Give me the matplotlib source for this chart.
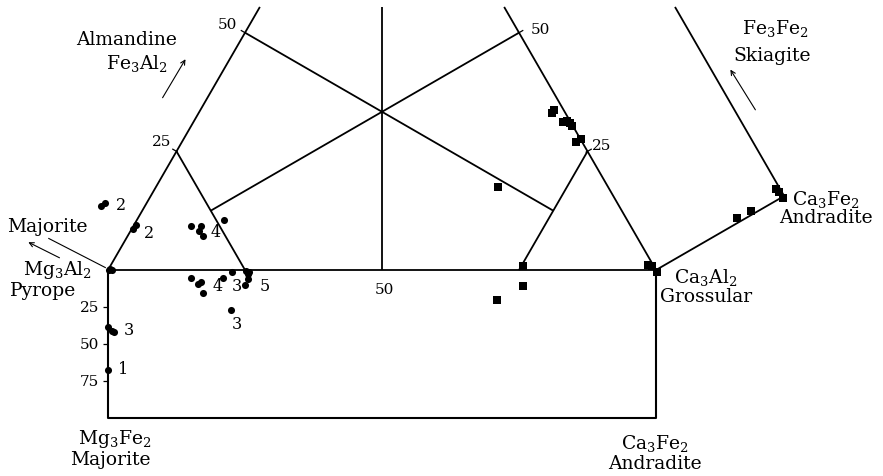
import numpy as np
import matplotlib
matplotlib.use("Agg")
import matplotlib.pyplot as plt

plt.rcParams['font.family'] = ['DejaVu Serif']
plt.rcParams['mathtext.fontset'] = 'dejavuserif'

# diagram units: Pyrope-Grossular base = 0..100, equilateral triangle above,
# Mg3Fe2 box below (100 % Mg3Fe2 = BOX_DEPTH units)
BOX_DEPTH = 27.0
TOP = 48.0
R3 = np.sqrt(3)

# dots (Mg/Fe rich garnets) x, y in diagram units
dot_x = [-1.3, -0.5, 4.6, 5.1, 0.2, 0.7, 0.4, 15.2, 17.0, 16.6, 17.3, 21.2,
         15.2, 16.4, 17.0, 17.3, 21.0, 22.6, 22.5, 25.2, 25.6, 25.6, 25.0, 25.7,
         0.0, 0.7, 1.1, 0.0]
dot_y = [11.7, 12.2, 7.5, 8.2, 0.0, 0.0, 0.2, 8.0, 8.0, 7.1, 6.2, 9.1,
         -1.5, -2.6, -2.2, -4.2, -1.5, -0.3, -7.3, -0.1, -0.7, -1.6, -2.7, -0.4,
         -10.4, -11.1, -11.4, -18.3]

# squares (Ca rich garnets)
sq_x = [81.0, 81.4, 83.0, 83.8, 84.3, 84.7, 85.4, 86.3, 71.2, 75.7, 75.7, 71.0,
        98.5, 99.3, 100.2, 121.9, 122.4, 123.2, 117.3, 114.8]
sq_y = [28.6, 29.2, 27.0, 27.2, 26.8, 26.3, 23.4, 23.9, 15.1, 0.7, -2.9, -5.5,
        0.9, 0.7, -0.4, 14.8, 14.2, 13.1, 10.8, 9.5]

# group numbers
num_labels = ['2', '2', '4', '4', '3', '3', '5', '3', '1']
num_x = [1.5, 6.6, 18.8, 19.0, 22.6, 22.6, 27.6, 2.9, 1.8]
num_y = [11.9, 6.9, 7.1, -2.9, -2.9, -9.7, -2.9, -10.8, -17.9]

box_ticks = [25, 50, 75]
edge_ticks = [25, 50]

fig = plt.figure(figsize=(8.83, 4.77), dpi=100)
ax = fig.add_axes([0, 0, 1, 1])
ax.set_xlim(-19.71, 141.42)
ax.set_ylim(-37.59, 49.45)
ax.axis('off')

kw = dict(color='black', lw=1.3, solid_capstyle='butt')
P = np.array([0.0, 0.0])
G = np.array([100.0, 0.0])
A = np.array([50.0, 50 * R3])
up_l = (A - P) / 100.0
up_r = (A - G) / 100.0

def seg(p, q, **k):
    ax.plot([p[0], q[0]], [p[1], q[1]], **{**kw, **k})

# triangle edges (clipped at top)
seg(P, P + up_l * TOP / up_l[1])
seg(G, G + up_r * TOP / up_r[1])
seg(P, G)
# small corner triangles
seg(P + 25 * up_l, P + np.array([25, 0]))
seg(G + 25 * up_r, G - np.array([25, 0]))
# medians
seg(np.array([50, 0]), np.array([50, TOP]))
L50 = P + 50 * up_l
R50 = G + 50 * up_r
seg(L50, L50 + 0.75 * (G - L50))
seg(R50, R50 + 0.75 * (P - R50))
# edge ticks
nl = np.array([-R3 / 2, 0.5])
nr = np.array([R3 / 2, 0.5])
for t in edge_ticks:
    seg(P + t * up_l - 0.2 * nl, P + t * up_l + 0.9 * nl, lw=0.9)
    seg(G + t * up_r - 0.4 * nr, G + t * up_r + 0.9 * nr, lw=0.9)
# Mg3Fe2 box
ax.plot([0, 0, 100, 100], [0, -BOX_DEPTH, -BOX_DEPTH, 0], color='black', lw=1.5)
for t in box_ticks:
    yy = -t * BOX_DEPTH / 100
    seg(np.array([-1.0, yy]), np.array([0, yy]), lw=0.9)
    ax.text(-1.6, yy, str(t), ha='right', va='center', fontsize=11)
# andradite / skiagite face
AND = G + BOX_DEPTH * np.array([R3 / 2, 0.5])
seg(G, AND)
seg(AND, AND + (A - G) / 100 * (TOP - AND[1]) / up_r[1])

# data
ax.scatter(dot_x, dot_y, s=26, marker='o', color='black', zorder=3, linewidths=0)
ax.scatter(sq_x, sq_y, s=32, marker='s', color='black', zorder=3, linewidths=0)
for lab, x, y in zip(num_labels, num_x, num_y):
    ax.text(x, y, lab, ha='left', va='center', fontsize=11.5)

# scale labels
ax.text(21.8, 44.9, '50', ha='center', va='center', fontsize=11)
ax.text(9.8, 23.5, '25', ha='center', va='center', fontsize=11)
ax.text(79.0, 44.0, '50', ha='center', va='center', fontsize=11)
ax.text(90.0, 22.8, '25', ha='center', va='center', fontsize=11)
ax.text(50.4, -3.5, '50', ha='center', va='center', fontsize=11)

# end-member names
fs = 13.5
ax.text(3.4, 42.1, 'Almandine', ha='center', va='center', fontsize=fs)
ax.text(5.2, 37.9, 'Fe$_3$Al$_2$', ha='center', va='center', fontsize=fs)
ax.text(-11.1, 8.1, 'Majorite', ha='center', va='center', fontsize=fs)
ax.text(-9.3, 0.2, 'Mg$_3$Al$_2$', ha='center', va='center', fontsize=fs)
ax.text(-11.8, -3.6, 'Pyrope', ha='center', va='center', fontsize=fs)
ax.text(1.3, -30.6, 'Mg$_3$Fe$_2$', ha='center', va='center', fontsize=fs)
ax.text(0.4, -34.5, 'Majorite', ha='center', va='center', fontsize=fs)
ax.text(99.8, -31.4, 'Ca$_3$Fe$_2$', ha='center', va='center', fontsize=fs)
ax.text(99.8, -35.2, 'Andradite', ha='center', va='center', fontsize=fs)
ax.text(109.1, -1.1, 'Ca$_3$Al$_2$', ha='center', va='center', fontsize=fs)
ax.text(109.1, -4.7, 'Grossular', ha='center', va='center', fontsize=fs)
ax.text(131.0, 13.0, 'Ca$_3$Fe$_2$', ha='center', va='center', fontsize=fs)
ax.text(131.0, 9.7, 'Andradite', ha='center', va='center', fontsize=fs)
ax.text(121.7, 44.3, 'Fe$_3$Fe$_2$', ha='center', va='center', fontsize=fs)
ax.text(121.2, 39.2, 'Skiagite', ha='center', va='center', fontsize=fs)

# arrows
arr = dict(arrowstyle='->', color='black', lw=0.8, mutation_scale=8)
ax.annotate('', xy=(14.4, 38.9), xytext=(9.7, 31.0), arrowprops=arr)
ax.annotate('', xy=(113.3, 37.0), xytext=(118.4, 28.8), arrowprops=arr)
ax.annotate('', xy=(-15.0, 5.3), xytext=(-8.4, 2.0), arrowprops=arr)
seg(np.array([-0.4, 0.4]), np.array([-10.9, 5.8]), lw=0.8)

fig.savefig('out.png', dpi=100, facecolor='white')
